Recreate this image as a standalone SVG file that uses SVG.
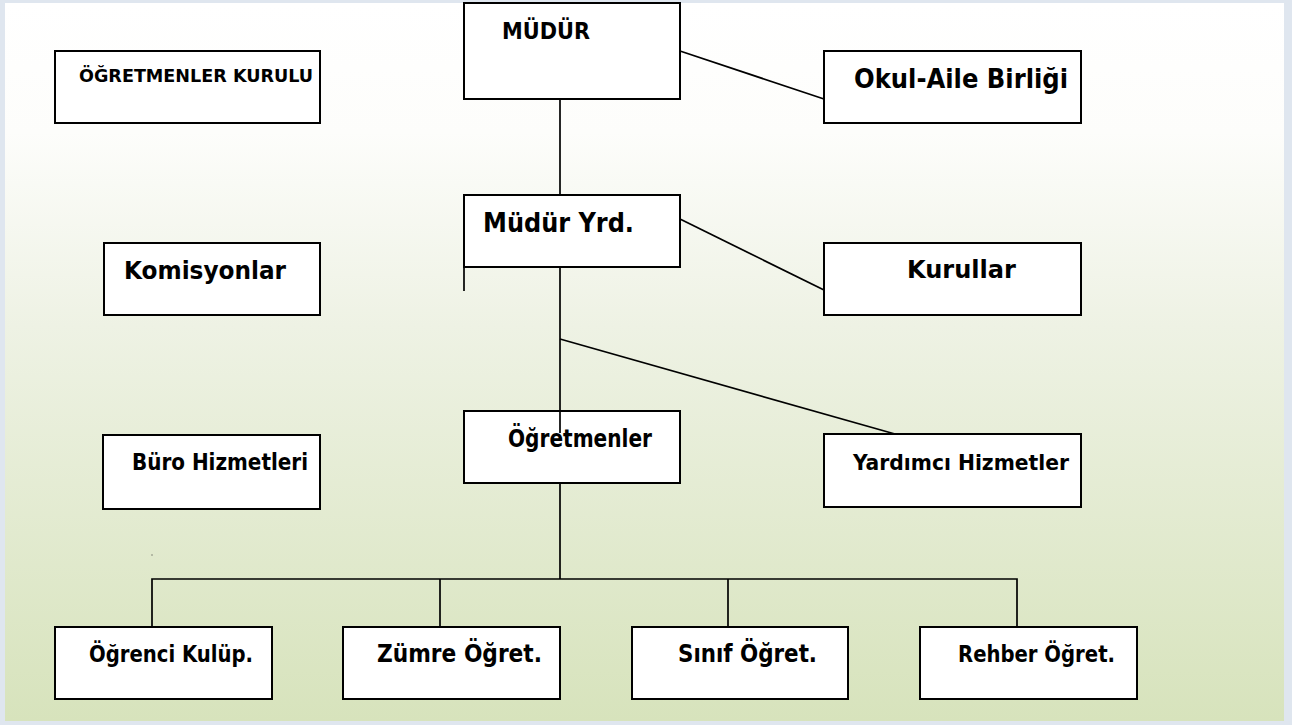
<svg xmlns="http://www.w3.org/2000/svg" width="1292" height="725" viewBox="0 0 1292 725">
<defs>
<linearGradient id="bg" x1="0" y1="0" x2="0" y2="1">
<stop offset="0" stop-color="#ffffff"/>
<stop offset="0.18" stop-color="#fdfdfb"/>
<stop offset="0.45" stop-color="#eef2e4"/>
<stop offset="1" stop-color="#d7e3bc"/>
</linearGradient>
<style>
.box{fill:#ffffff;stroke:#000000;stroke-width:2}
.ln{fill:none;stroke:#000000;stroke-width:1.7}
.t{font-family:"DejaVu Sans Condensed","DejaVu Sans","Liberation Sans",sans-serif;font-weight:bold;fill:#000000}
</style>
</defs>
<rect x="0" y="0" width="1292" height="725" fill="#dfe6ef"/>
<rect x="5" y="3" width="1279" height="718" fill="url(#bg)"/>

<g id="node-mudur">
<rect class="box" x="464" y="3" width="216" height="96"/>
<text class="t" x="502" y="39" font-size="23" textLength="88" lengthAdjust="spacingAndGlyphs">MÜDÜR</text>
</g>
<g id="node-ogretmenler-kurulu">
<rect class="box" x="55" y="51" width="265" height="72"/>
<text class="t" x="79" y="82" font-size="18" textLength="234" lengthAdjust="spacingAndGlyphs">ÖĞRETMENLER KURULU</text>
</g>
<g id="node-okul-aile">
<rect class="box" x="824" y="51" width="257" height="72"/>
<text class="t" x="854" y="88" font-size="27" textLength="214" lengthAdjust="spacingAndGlyphs">Okul-Aile Birliği</text>
</g>
<g id="node-mudur-yrd">
<rect class="box" x="464" y="195" width="216" height="72"/>
<text class="t" x="483" y="232" font-size="27" textLength="151" lengthAdjust="spacingAndGlyphs">Müdür Yrd.</text>
</g>
<g id="node-komisyonlar">
<rect class="box" x="104" y="243" width="216" height="72"/>
<text class="t" x="124" y="279" font-size="25" textLength="162" lengthAdjust="spacingAndGlyphs">Komisyonlar</text>
</g>
<g id="node-kurullar">
<rect class="box" x="824" y="243" width="257" height="72"/>
<text class="t" x="907" y="278" font-size="25" textLength="109" lengthAdjust="spacingAndGlyphs">Kurullar</text>
</g>
<g id="node-ogretmenler">
<rect class="box" x="464" y="411" width="216" height="72"/>
<text class="t" x="508" y="447" font-size="24" textLength="144" lengthAdjust="spacingAndGlyphs">Öğretmenler</text>
</g>
<g id="node-buro">
<rect class="box" x="103" y="435" width="217" height="74"/>
<text class="t" x="132" y="470" font-size="23" textLength="176" lengthAdjust="spacingAndGlyphs">Büro Hizmetleri</text>
</g>
<g id="node-yardimci">
<rect class="box" x="824" y="434" width="257" height="73"/>
<text class="t" x="853" y="470" font-size="22" textLength="216" lengthAdjust="spacingAndGlyphs">Yardımcı Hizmetler</text>
</g>
<g id="node-ogrenci-kulup">
<rect class="box" x="55" y="627" width="217" height="72"/>
<text class="t" x="89" y="662" font-size="23" textLength="164" lengthAdjust="spacingAndGlyphs">Öğrenci Kulüp.</text>
</g>
<g id="node-zumre">
<rect class="box" x="343" y="627" width="217" height="72"/>
<text class="t" x="377" y="662" font-size="24" textLength="165" lengthAdjust="spacingAndGlyphs">Zümre Öğret.</text>
</g>
<g id="node-sinif">
<rect class="box" x="632" y="627" width="216" height="72"/>
<text class="t" x="678" y="662" font-size="24" textLength="139" lengthAdjust="spacingAndGlyphs">Sınıf Öğret.</text>
</g>
<g id="node-rehber">
<rect class="box" x="920" y="627" width="217" height="72"/>
<text class="t" x="958" y="662" font-size="23" textLength="157" lengthAdjust="spacingAndGlyphs">Rehber Öğret.</text>
</g>

<g id="connectors">
<line class="ln" x1="560" y1="99" x2="560" y2="195"/>
<line class="ln" x1="680" y1="51" x2="824" y2="99"/>
<line class="ln" x1="680" y1="219" x2="824" y2="290"/>
<line class="ln" x1="560" y1="267" x2="560" y2="433"/>
<line class="ln" x1="464" y1="267" x2="464" y2="291"/>
<line class="ln" x1="560" y1="339" x2="895" y2="434"/>
<line class="ln" x1="560" y1="483" x2="560" y2="579"/>
<polyline class="ln" points="152,627 152,579 1017,579 1017,627"/>
<line class="ln" x1="440" y1="579" x2="440" y2="627"/>
<line class="ln" x1="728" y1="579" x2="728" y2="627"/>
<rect x="151.5" y="554.5" width="1" height="1" fill="#333333"/>
</g>
</svg>
